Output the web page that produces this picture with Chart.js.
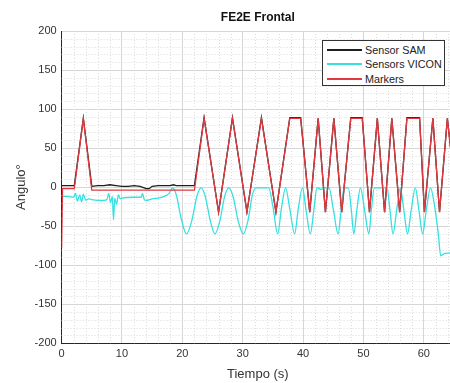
<!DOCTYPE html>
<html>
<head>
<meta charset="utf-8">
<script src="https://cdn.jsdelivr.net/npm/chart.js@4/dist/chart.umd.min.js"></script>
<style>
  html, body { margin: 0; padding: 0; background: #fff; overflow: hidden; }
  #wrap { position: relative; width: 456px; height: 383px; }
  #legend {
    position: absolute; left: 322px; top: 40px; width: 123px; height: 46px;
    background: #fff; border: 1px solid #333; box-sizing: border-box;
    font-family: "Liberation Sans", Arial, sans-serif; font-size: 10.8px; color: #222;
  }
  #legend div { position: absolute; left: 0; height: 14px; line-height: 14px; }
  #legend span.ln { position: absolute; left: 4px; top: 6px; width: 35px; height: 2px; }
  #legend span.tx { position: absolute; left: 42px; top: 0; white-space: nowrap; }
</style>
</head>
<body>
<div id="wrap">
  <canvas id="c" width="456" height="383"></canvas>
  <div id="legend"></div>
</div>
<script>
// ---- data ----
const seriesNames = ["Sensor SAM", "Sensors VICON", "Markers"];
const seriesColors = ["#1e1e1e", "#35e0e0", "#e03a40"];

const samT = [0, 2.1, 3.6, 5, 6, 7, 8, 9, 10, 11, 12, 13, 14, 14.5, 15, 16, 18, 18.5, 19, 22,
  23.6, 26, 28.3, 30.7, 33.1, 35.5, 37.8, 39.6, 41.1, 42.5, 43.7, 45.1, 46.4, 47.9, 49.8, 51,
  52.3, 53.5, 54.7, 56, 57.2, 59.3, 60.1, 61.5, 62.6, 63.9, 65];
const samY = [2, 2, 88, 1, 2, 2, 3, 2, 1, 1, 2, 1, -2, -2, 1, 2, 2, 3, 2, 2,
  89, -32, 89, -32, 89, -32, 89, 89, -32, 88, -32, 88, -32, 89, 89, -32,
  88, -32, 88, -32, 89, 89, -32, 88, -32, 88, 10];

const viconT = [0, 1, 2, 2.3, 2.6, 3, 3.3, 3.6, 4, 4.5, 5, 6, 7, 7.5, 7.8, 8.1, 8.4, 8.6, 8.8, 9.1,
  9.4, 9.7, 10, 12, 13.2, 13.4, 13.7, 14, 15, 16, 17, 17.8, 18.4, 19, 19.8, 20.7, 21.6, 22.4, 23.1,
  23.8, 24.6, 25.4, 26.2, 27, 27.7, 28.4, 29.3, 30.1, 30.9, 31.6, 32.2, 34.3, 35, 35.8, 36.4, 37.1,
  37.8, 38.6, 39.2, 39.9, 40.5, 41.2, 41.8, 42.3, 43, 43.5, 44.3, 45, 45.8, 46.3, 46.8, 47.5, 48,
  48.4, 48.9, 49.5, 50.2, 50.9, 51.3, 51.8, 53.9, 54.4, 54.9, 55.5, 56.1, 56.7, 57.3, 57.9, 58.6,
  59.2, 59.8, 60.4, 61.1, 61.7, 62.4, 62.8, 63.5, 65];
const viconY = [-12, -12, -13, -8, -18, -10, -19, -9, -17, -15, -16, -17, -17, -16, -8, -20, -12, -42, -14, -22,
  -10, -15, -14, -13, -13, -8, -16, -17, -15, -14, -12, -8, -1, -10, -40, -60, -42, -12, -1,
  -12, -42, -60, -44, -12, -1, -12, -45, -60, -42, -10, -1, -1, -25, -60, -28, -1,
  -28, -60, -28, -1, -30, -60, -28, -1, -3, -1, -1, -28, -60, -30, -1, -1, -30,
  -60, -30, -1, -30, -60, -30, -1, -1, -30, -60, -30, -1, -30, -60, -30, -1,
  -30, -60, -30, -1, -20, -60, -88, -85, -84];

const markT = [0, 0.15, 2.1, 3.6, 5, 22, 23.6, 26, 28.3, 30.7, 33.1, 35.5, 37.8, 39.6, 41.1, 42.5,
  43.7, 45.1, 46.4, 47.9, 49.8, 51, 52.3, 53.5, 54.7, 56, 57.2, 59.3, 60.1, 61.5, 62.6, 63.9, 65];
const markY = [-78, -2, -2, 88, -4, -4, 88, -32, 88, -32, 88, -32, 88, 88, -32, 88,
  -32, 88, -32, 88, 88, -32, 88, -32, 88, -32, 88, 88, -32, 88, -32, 88, 10];

const xTicks = [0, 10, 20, 30, 40, 50, 60];
const yTicks = [-200, -150, -100, -50, 0, 50, 100, 150, 200];

function toPoints(t, y) {
  return t.map((v, i) => ({ x: v, y: y[i] }));
}

// minor dotted grid, drawn from the scales
const minorGrid = {
  id: "minorGrid",
  beforeDatasetsDraw(chart) {
    const { ctx, chartArea: a, scales } = chart;
    ctx.save();
    ctx.strokeStyle = "#dcdcdc";
    ctx.lineWidth = 1;
    ctx.setLineDash([1, 2]);
    for (let v = 2; v < 65; v += 2) {
      if (v % 10 === 0) continue;
      const px = Math.round(scales.x.getPixelForValue(v)) + 0.5;
      ctx.beginPath(); ctx.moveTo(px, a.top); ctx.lineTo(px, a.bottom); ctx.stroke();
    }
    for (let v = -190; v < 200; v += 10) {
      if (v % 50 === 0) continue;
      const py = Math.round(scales.y.getPixelForValue(v)) + 0.5;
      ctx.beginPath(); ctx.moveTo(a.left, py); ctx.lineTo(a.right, py); ctx.stroke();
    }
    ctx.restore();
  },
  afterDraw(chart) {
    const { ctx, chartArea: a } = chart;
    ctx.save();
    ctx.fillStyle = "#111";
    ctx.font = "bold 12px 'Liberation Sans', Arial, sans-serif";
    ctx.textAlign = "center";
    ctx.textBaseline = "middle";
    ctx.fillText("FE2E Frontal", (a.left + a.right) / 2, 18);
    ctx.restore();
  }
};

const datasets = [
  { label: seriesNames[0], data: toPoints(samT, samY), borderColor: seriesColors[0] },
  { label: seriesNames[1], data: toPoints(viconT, viconY), borderColor: seriesColors[1], cubicInterpolationMode: "monotone" },
  { label: seriesNames[2], data: toPoints(markT, markY), borderColor: seriesColors[2] },
].map((d, i) => Object.assign({
  borderWidth: 1.3,
  pointRadius: 0,
  fill: false,
  order: 3 - i,
}, d));

new Chart(document.getElementById("c"), {
  type: "line",
  data: { datasets: datasets },
  options: {
    responsive: false,
    animation: false,
    layout: { padding: { top: 31, right: 2, left: 14, bottom: 1 } },
    plugins: {
      legend: { display: false },
      tooltip: { enabled: false },
    },
    scales: {
      x: {
        type: "linear",
        min: 0,
        max: 65,
        afterBuildTicks: (s) => { s.ticks = xTicks.map((v) => ({ value: v })); },
        ticks: { color: "#333", font: { size: 11, family: "'Liberation Sans', Arial, sans-serif" }, padding: 4, maxRotation: 0 },
        grid: { color: "#d6d6d6", drawTicks: false },
        border: { color: "#262626", width: 1 },
        title: { display: true, text: "Tiempo (s)", color: "#333", font: { size: 13, family: "'Liberation Sans', Arial, sans-serif" }, padding: { top: 2, bottom: 0 } },
      },
      y: {
        type: "linear",
        min: -200,
        max: 200,
        afterBuildTicks: (s) => { s.ticks = yTicks.map((v) => ({ value: v })); },
        ticks: { color: "#333", font: { size: 11, family: "'Liberation Sans', Arial, sans-serif" }, padding: 5 },
        grid: { color: "#d6d6d6", drawTicks: false },
        border: { color: "#262626", width: 1 },
        title: { display: true, text: "Angulo°", color: "#333", font: { size: 13, family: "'Liberation Sans', Arial, sans-serif" }, padding: { top: 0, bottom: 0 } },
      },
    },
  },
  plugins: [minorGrid],
});

// legend box
const legend = document.getElementById("legend");
seriesNames.forEach((name, i) => {
  const row = document.createElement("div");
  row.style.top = (2 + i * 14.3) + "px";
  row.style.width = "100%";
  row.innerHTML = '<span class="ln" style="background:' + seriesColors[i] + '"></span><span class="tx">' + name + "</span>";
  legend.appendChild(row);
});
</script>
</body>
</html>
